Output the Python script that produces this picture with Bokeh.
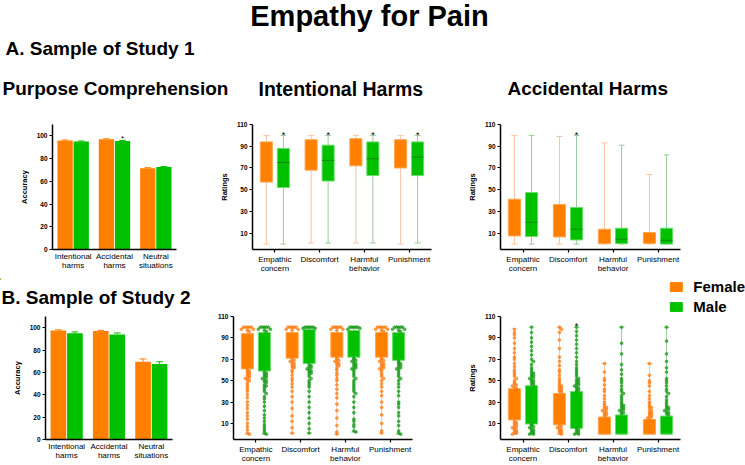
from bokeh.plotting import figure
from bokeh.layouts import column, row
from bokeh.models import Range1d, FixedTicker, Label, Legend, LegendItem
from bokeh.core.properties import value
from bokeh.embed import file_html
from bokeh.resources import INLINE

FONT = "Liberation Sans"
ORANGE = "#FF8000"
ORANGE_EDGE = "#FFA64D"
ORANGE_WHISK = "#F6C3A6"
ORANGE_PT = "#FF7A10"
GREEN = "#00C000"
GREEN_EDGE = "#6ADD6A"
GREEN_WHISK = "#9CCB9C"
GREEN_MED = "#0E8A0E"
GREEN_PT = "#149A14"

# ---------------- data ----------------
bar_labels = ["Intentional\nharms", "Accidental\nharms", "Neutral\nsituations"]
s1_acc_female = [96.0, 97.0, 71.5]
s1_acc_male = [95.0, 95.5, 72.5]
s1_acc_female_err = [0.4, 0.4, 0.5]
s1_acc_male_err = [0.5, 0.5, 0.6]
s1_acc_star = [False, True, False]

s2_acc_female = [97.5, 97.0, 69.5]
s2_acc_male = [95.0, 94.0, 67.5]
s2_acc_female_err = [0.6, 0.6, 2.5]
s2_acc_male_err = [1.2, 1.3, 2.0]
s2_acc_star = [False, False, False]

box_labels = ["Empathic\nconcern", "Discomfort", "Harmful\nbehavior", "Punishment"]

# Study 1 - intentional harms
s1_int_f_min = [0, 1, 1, 0]
s1_int_f_q1 = [57, 68, 72, 70]
s1_int_f_q3 = [94, 96, 97, 96]
s1_int_f_max = [100, 100, 100, 100]
s1_int_m_min = [0, 1, 1, 1]
s1_int_m_q1 = [52, 58, 63, 63]
s1_int_m_med = [75, 77, 78.5, 80]
s1_int_m_q3 = [88, 91, 94, 94]
s1_int_m_max = [100, 100, 100, 100]
s1_int_star = [True, True, True, True]

# Study 1 - accidental harms
s1_acc_f_min = [0, 0, 0, 0]
s1_acc_f_q1 = [7.5, 6.6, 0.4, 0.6]
s1_acc_f_q3 = [41.3, 36.4, 13.7, 10.6]
s1_acc_f_max = [100, 99, 93, 64]
s1_acc_m_min = [0, 0, 0, 0]
s1_acc_m_q1 = [6.9, 3.8, 0.4, 0.0]
s1_acc_m_med = [20, 13.7, 4.5, 3.5]
s1_acc_m_q3 = [47.4, 33.6, 14.6, 14.6]
s1_acc_m_max = [100, 100, 91, 82]
s1_accb_star = [False, True, False, False]

# Study 2 - intentional harms
s2_int_f_min = [0, 1, 0, 1]
s2_int_f_q1 = [61, 71, 72, 72]
s2_int_f_q3 = [94, 95, 95, 95]
s2_int_f_max = [100, 100, 100, 100]
s2_int_m_min = [0, 1, 2, 0]
s2_int_m_q1 = [59, 66, 72, 69]
s2_int_m_q3 = [95, 98, 97, 95]
s2_int_m_max = [100, 100, 100, 100]
s2_int_star = [False, False, False, False]

s2_int_f_points = [
    [100, 100, 100, 100, 100, 98, 98, 97, 96,
     60, 59, 58, 57, 56, 55, 54, 53, 52, 51, 50, 48, 46, 44, 42, 40, 37, 34, 30, 27, 24, 20, 17, 14, 10, 7, 4, 1, 0],
    [100, 100, 100, 100, 100, 98, 98, 97,
     70, 69, 68, 67, 66, 65, 64, 63, 62, 60, 58, 55, 52, 50, 47, 44, 40, 35, 30, 24, 17, 12, 6, 1],
    [100, 100, 100, 100, 100, 98, 98, 97,
     71, 70, 69, 68, 67, 66, 65, 64, 62, 60, 57, 55, 52, 50, 46, 42, 38, 34, 28, 22, 15, 8, 2, 0],
    [100, 100, 100, 100, 100, 98, 98, 97, 96,
     71, 70, 69, 68, 67, 66, 65, 64, 63, 62, 61, 60, 58, 56, 54, 52, 50, 47, 44, 40, 36, 30, 25, 18, 10, 3, 1],
]
s2_int_m_points = [
    [100, 100, 100, 100, 100, 98, 98, 97, 96,
     58, 57, 56, 55, 54, 53, 52, 51, 50, 49, 48, 46, 45, 44, 42, 40, 38, 35, 33, 30, 26, 22, 18, 15, 12, 9, 7, 5, 3, 1, 0],
    [100, 100, 100, 100, 100, 99, 99,
     65, 64, 63, 62, 61, 60, 59, 58, 57, 56, 54, 52, 50, 48, 46, 44, 40, 35, 30, 25, 20, 15, 10, 5, 1],
    [100, 100, 100, 100, 100, 99, 98,
     71, 70, 69, 68, 67, 66, 65, 64, 63, 62, 61, 60, 58, 56, 54, 52, 50, 48, 46, 44, 42, 40, 38, 35, 30, 25, 20, 14, 12, 9, 7, 3, 2],
    [100, 100, 100, 100, 100, 98, 98, 97, 96,
     68, 67, 66, 65, 64, 63, 62, 61, 60, 58, 56, 54, 52, 50, 47, 44, 40, 36, 30, 28, 25, 20, 17, 12, 8, 3, 1, 0],
]

# Study 2 - accidental harms
s2_acc_f_min = [0, 0, 0, 0]
s2_acc_f_q1 = [13.3, 8.7, 0, 0]
s2_acc_f_q3 = [42.5, 38, 16, 13.7]
s2_acc_f_max = [98.5, 100, 66, 66]
s2_acc_m_min = [0, 0, 0, 0]
s2_acc_m_q1 = [9.4, 5.4, 0, 0]
s2_acc_m_q3 = [45.3, 39.8, 18, 17]
s2_acc_m_max = [100, 100, 100, 100]
s2_accb_star = [False, True, False, False]

s2_acc_f_points = [
    [43, 44, 45, 46, 47, 48, 50, 52, 54, 56, 58, 60, 63, 66, 70, 72, 76, 80, 85, 90, 93, 95, 98,
     12, 11, 10, 9, 8, 7, 6, 5, 4, 3, 2, 1, 1, 0],
    [39, 40, 41, 42, 43, 44, 45, 46, 48, 50, 52, 55, 58, 60, 64, 68, 72, 80, 88, 95, 98, 100,
     8, 7, 6, 5, 4, 3, 2, 1, 0],
    [17, 18, 19, 20, 21, 22, 23, 24, 25, 26, 28, 30, 33, 36, 40, 42, 46, 50, 52, 58, 66],
    [14, 15, 16, 17, 18, 19, 20, 21, 22, 24, 25, 26, 28, 30, 33, 36, 40, 45, 48, 50, 55, 66],
]
s2_acc_m_points = [
    [46, 47, 48, 49, 50, 51, 52, 53, 54, 55, 56, 57, 58, 60, 62, 65, 68, 70, 74, 78, 82, 86, 90, 95, 100,
     9, 8, 7, 6, 5, 4, 3, 2, 1, 0, 0],
    [40, 41, 42, 43, 44, 45, 46, 47, 48, 49, 50, 51, 52, 54, 56, 58, 60, 62, 65, 68, 72, 76, 80, 84, 88, 92, 96, 100,
     5, 4, 3, 2, 1, 0, 0],
    [19, 20, 21, 22, 23, 24, 25, 26, 27, 28, 30, 32, 34, 36, 38, 40, 42, 45, 48, 50, 52, 56, 60, 65, 75, 85, 100],
    [18, 19, 20, 21, 22, 23, 24, 25, 26, 28, 30, 32, 35, 38, 40, 42, 45, 48, 50, 52, 58, 62, 68, 75, 87, 100],
]

legend_labels = ["Female", "Male"]

# ---------------- helpers ----------------
BAR_OFF = 0.195
BAR_W = 0.37
BOX_OFF = 0.19
BOX_W = 0.27
CAP = 0.065


def base_fig(w, h, bl, br, bt, bb, xr, yr):
    p = figure(width=w, height=h, x_range=Range1d(*xr), y_range=Range1d(*yr), title=None,
               output_backend="svg", toolbar_location=None,
               min_border_left=bl, min_border_right=br,
               min_border_top=bt, min_border_bottom=bb)
    p.outline_line_color = None
    p.xgrid.visible = False
    p.ygrid.visible = False
    return p


def text_fig(w, h):
    p = figure(width=w, height=h, x_range=Range1d(0, w), y_range=Range1d(h, 0), title=None,
               x_axis_type=None, y_axis_type=None, min_border=0,
               output_backend="svg", toolbar_location=None)
    p.outline_line_color = None
    p.xgrid.visible = False
    p.ygrid.visible = False
    return p


def heading(p, x, y, txt, size, align="left"):
    p.add_layout(Label(x=x, y=y, text=txt, text_font=FONT, text_font_size=size,
                       text_font_style="bold", text_align=align, text_baseline="middle",
                       text_color="black"))


def style_axes(p, yticks, xticks, xlabels, ylabel, x_tick_out, x_standoff):
    ay = p.yaxis[0]
    ay.ticker = FixedTicker(ticks=yticks)
    ay.axis_line_width = 1.5
    ay.axis_line_color = "black"
    ay.major_tick_out = 3
    ay.major_tick_in = 0
    ay.major_tick_line_width = 1.2
    ay.minor_tick_out = 0
    ay.minor_tick_in = 0
    ay.major_label_text_font = FONT
    ay.major_label_text_font_size = "6.5px"
    ay.major_label_text_font_style = "bold"
    ay.major_label_text_color = "black"
    ay.major_label_standoff = 2
    if ylabel:
        ay.axis_label = ylabel
        ay.axis_label_text_font = FONT
        ay.axis_label_text_font_size = "7.5px"
        ay.axis_label_text_font_style = "bold"
        ay.axis_label_text_color = "black"
        ay.axis_label_standoff = 5
    ax = p.xaxis[0]
    ax.ticker = FixedTicker(ticks=xticks)
    ax.major_label_overrides = {t: lab for t, lab in zip(xticks, xlabels)}
    ax.axis_line_width = 1.5
    ax.axis_line_color = "black"
    ax.major_tick_out = x_tick_out
    ax.major_tick_in = 0
    ax.major_tick_line_width = 1.2
    ax.minor_tick_out = 0
    ax.minor_tick_in = 0
    ax.major_label_text_font = FONT
    ax.major_label_text_font_size = "8px"
    ax.major_label_text_color = "black"
    ax.major_label_text_line_height = 1.0
    ax.major_label_standoff = x_standoff


def bar_panel(w, h, bl, br, bt, bb, fvals, mvals, ferr, merr, stars, ylabel):
    p = base_fig(w, h, bl, br, bt, bb, (-0.5, 2.5), (0, 110))
    n = len(fvals)
    xf = [i - BAR_OFF for i in range(n)]
    xm = [i + BAR_OFF for i in range(n)]
    for xs, vals, errs, col in ((xf, fvals, ferr, ORANGE), (xm, mvals, merr, GREEN)):
        p.vbar(x=xs, width=BAR_W, bottom=0, top=vals, fill_color=col, line_color=None)
        tops = [v + e for v, e in zip(vals, errs)]
        p.segment(x0=xs, y0=vals, x1=xs, y1=tops, line_color=col, line_width=1)
        p.segment(x0=[x - 0.08 for x in xs], y0=tops, x1=[x + 0.08 for x in xs], y1=tops,
                  line_color=col, line_width=1)
    sx = [x for x, s in zip(xm, stars) if s]
    sy = [v + e + 2.0 for v, e, s in zip(mvals, merr, stars) if s]
    if sx:
        p.text(x=sx, y=sy, text=["*"] * len(sx), text_font=value(FONT), text_font_size="8px",
               text_align="center", text_baseline="middle", text_color="black")
    style_axes(p, [0, 20, 40, 60, 80, 100], list(range(n)), bar_labels, ylabel, 0, 2)
    return p


def swarm(values, center, step=0.045, binw=2.3):
    xs, ys, counts = [], [], {}
    for v in sorted(values, reverse=True):
        b = round(v / binw)
        k = counts.get(b, 0)
        counts[b] = k + 1
        off = ((k + 1) // 2) * step * (1 if k % 2 else -1)
        xs.append(center + off)
        ys.append(v)
    return xs, ys


def draw_boxes(p, off, fill, edge, whisk, lo, q1, q3, hi, med=None):
    xs = [i + off for i in range(len(lo))]
    p.segment(x0=xs, y0=lo, x1=xs, y1=hi, line_color=whisk, line_width=1)
    p.segment(x0=[x - CAP for x in xs], y0=lo, x1=[x + CAP for x in xs], y1=lo,
              line_color=whisk, line_width=1)
    p.segment(x0=[x - CAP for x in xs], y0=hi, x1=[x + CAP for x in xs], y1=hi,
              line_color=whisk, line_width=1)
    r = p.vbar(x=xs, width=BOX_W, bottom=q1, top=q3, fill_color=fill, line_color=edge, line_width=1)
    if med is not None:
        p.segment(x0=[x - BOX_W / 2 for x in xs], y0=med, x1=[x + BOX_W / 2 for x in xs], y1=med,
                  line_color=GREEN_MED, line_width=1)
    return r


def box_panel(w, h, bl, br, bt, bb, f, m, stars, ylabel, fpts=None, mpts=None):
    p = base_fig(w, h, bl, br, bt, bb, (-0.5, 3.5), (-5, 110))
    draw_boxes(p, -BOX_OFF, ORANGE, ORANGE_EDGE, ORANGE_WHISK, *f)
    draw_boxes(p, BOX_OFF, GREEN, GREEN_EDGE, GREEN_WHISK, *m)
    for pts, off, col in ((fpts, -BOX_OFF, ORANGE_PT), (mpts, BOX_OFF, GREEN_PT)):
        if pts is None:
            continue
        X, Y = [], []
        for i, vals in enumerate(pts):
            xs, ys = swarm(vals, i + off)
            X += xs
            Y += ys
        p.scatter(x=X, y=Y, marker="circle", size=2.8, fill_color=col, fill_alpha=0.7,
                  line_color=col, line_width=0.6)
    mx = [i + BOX_OFF for i, s in enumerate(stars) if s]
    my = [m[3][i] + 0.8 for i, s in enumerate(stars) if s]
    if mx:
        p.text(x=mx, y=my, text=["*"] * len(mx), text_font=value(FONT), text_font_size="9px",
               text_align="center", text_baseline="middle", text_color="black")
    style_axes(p, [10, 30, 50, 70, 90, 110], [0, 1, 2, 3], box_labels, ylabel, 3, 2)
    return p


# ---------------- header ----------------
hdr = text_fig(745, 104)
heading(hdr, 369, 15.5, "Empathy for Pain", "29px", "center")
heading(hdr, 5, 48, "A. Sample of Study 1", "19px")
heading(hdr, 2, 88, "Purpose Comprehension", "19px")
heading(hdr, 258, 88, "Intentional Harms", "19.5px")
heading(hdr, 507, 88, "Accidental Harms", "19px")

# ---------------- row A ----------------
A1 = bar_panel(200, 174, 52, 24, 20, 29, s1_acc_female, s1_acc_male,
               s1_acc_female_err, s1_acc_male_err, s1_acc_star, "Accuracy")
A2 = box_panel(265, 174, 52, 34, 20, 29,
               (s1_int_f_min, s1_int_f_q1, s1_int_f_q3, s1_int_f_max),
               (s1_int_m_min, s1_int_m_q1, s1_int_m_q3, s1_int_m_max, s1_int_m_med),
               s1_int_star, "Ratings")
A3 = box_panel(280, 174, 35, 65, 20, 29,
               (s1_acc_f_min, s1_acc_f_q1, s1_acc_f_q3, s1_acc_f_max),
               (s1_acc_m_min, s1_acc_m_q1, s1_acc_m_q3, s1_acc_m_max, s1_acc_m_med),
               s1_accb_star, "Ratings")

# ---------------- strip between rows (heading B + legend) ----------------
strip = text_fig(745, 34)
heading(strip, 1, 19, "B. Sample of Study 2", "19px")
# legend key renderers: one bar each, kept outside the visible range
r_f = strip.vbar(x=[-50], top=[1], bottom=[0], width=1, fill_color=ORANGE, line_color=ORANGE)
r_m = strip.vbar(x=[-50], top=[1], bottom=[0], width=1, fill_color=GREEN, line_color=GREEN)
leg = Legend(items=[LegendItem(label=legend_labels[0], renderers=[r_f]),
                    LegendItem(label=legend_labels[1], renderers=[r_m])],
             location="top_right", orientation="vertical",
             glyph_width=15, glyph_height=11, label_standoff=10, spacing=3,
             padding=0, margin=0, border_line_color=None, background_fill_alpha=0,
             label_text_font=FONT, label_text_font_size="15px", label_text_font_style="bold",
             label_text_baseline="alphabetic", label_text_color="black", label_height=11)
strip.add_layout(leg)

# ---------------- row B ----------------
B1 = bar_panel(205, 153, 45, 33, 4, 25, s2_acc_female, s2_acc_male,
               s2_acc_female_err, s2_acc_male_err, s2_acc_star, "Accuracy")
B2 = box_panel(260, 153, 28, 53, 4, 25,
               (s2_int_f_min, s2_int_f_q1, s2_int_f_q3, s2_int_f_max),
               (s2_int_m_min, s2_int_m_q1, s2_int_m_q3, s2_int_m_max),
               s2_int_star, None, s2_int_f_points, s2_int_m_points)
B3 = box_panel(280, 153, 35, 65, 4, 25,
               (s2_acc_f_min, s2_acc_f_q1, s2_acc_f_q3, s2_acc_f_max),
               (s2_acc_m_min, s2_acc_m_q1, s2_acc_m_q3, s2_acc_m_max),
               s2_accb_star, "Ratings", s2_acc_f_points, s2_acc_m_points)

layout = column(hdr, row(A1, A2, A3), strip, row(B1, B2, B3))
open("out.html", "w").write(file_html(layout, INLINE))
